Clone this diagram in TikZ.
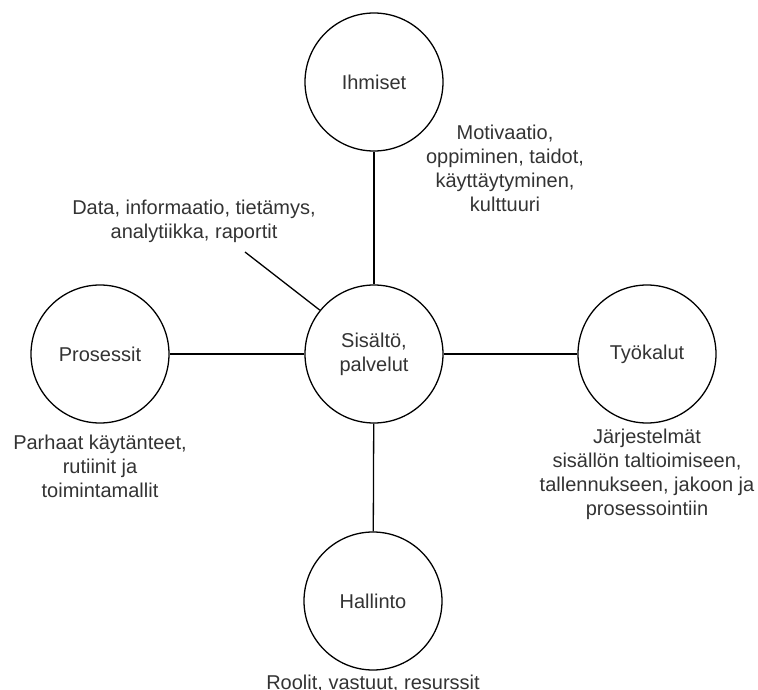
\documentclass[tikz,border=0pt]{standalone}
\usepackage{fontspec}
\setmainfont{Liberation Sans}
\definecolor{txt}{HTML}{333333}
\begin{document}
\begin{tikzpicture}[x=1pt,y=-1pt,
  bubble/.style={circle,draw=black,line width=1.3pt,minimum size=138pt,inner sep=0pt,
    align=center,text=txt,font=\fontsize{20}{24}\selectfont},
  note/.style={align=center,text=txt,font=\fontsize{20}{24}\selectfont,inner sep=0pt},
  link/.style={line width=1.3pt,draw=black}]
\useasboundingbox (0,0) rectangle (758,690);

% circles
\node[bubble] (core)  at (374,354) {Sisältö,\\palvelut};
\node[bubble] (people) at (374,82) {Ihmiset};
\node[bubble] (proc)  at (100,354) {Prosessit};
\node[bubble] (tools) at (647,354) {Työkalut};
\node[bubble] (gov)   at (373,601) {Hallinto};

% spokes
\draw[link] (core) -- (people);
\draw[link] (core) -- (proc);
\draw[link] (core) -- (tools);
\draw[link] (core) -- (gov);
\coordinate (dataend) at (245,252);
\draw[link] (core.141.7) -- (dataend);

% descriptions
\node[note] (datatxt) at (194,221) {Data, informaatio, tietämys,\\analytiikka, raportit};
\node[note] (peopletxt) at (505,168) {Motivaatio,\\oppiminen, taidot,\\käyttäytyminen,\\kulttuuri};
\node[note] (proctxt) at (100,466) {Parhaat käytänteet,\\rutiinit ja\\toimintamallit};
\node[note] (toolstxt) at (647,474) {Järjestelmät\\sisällön taltioimiseen,\\tallennukseen, jakoon ja\\prosessointiin};
\node[note] (govtxt) at (373,684) {Roolit, vastuut, resurssit};
\end{tikzpicture}
\end{document}
